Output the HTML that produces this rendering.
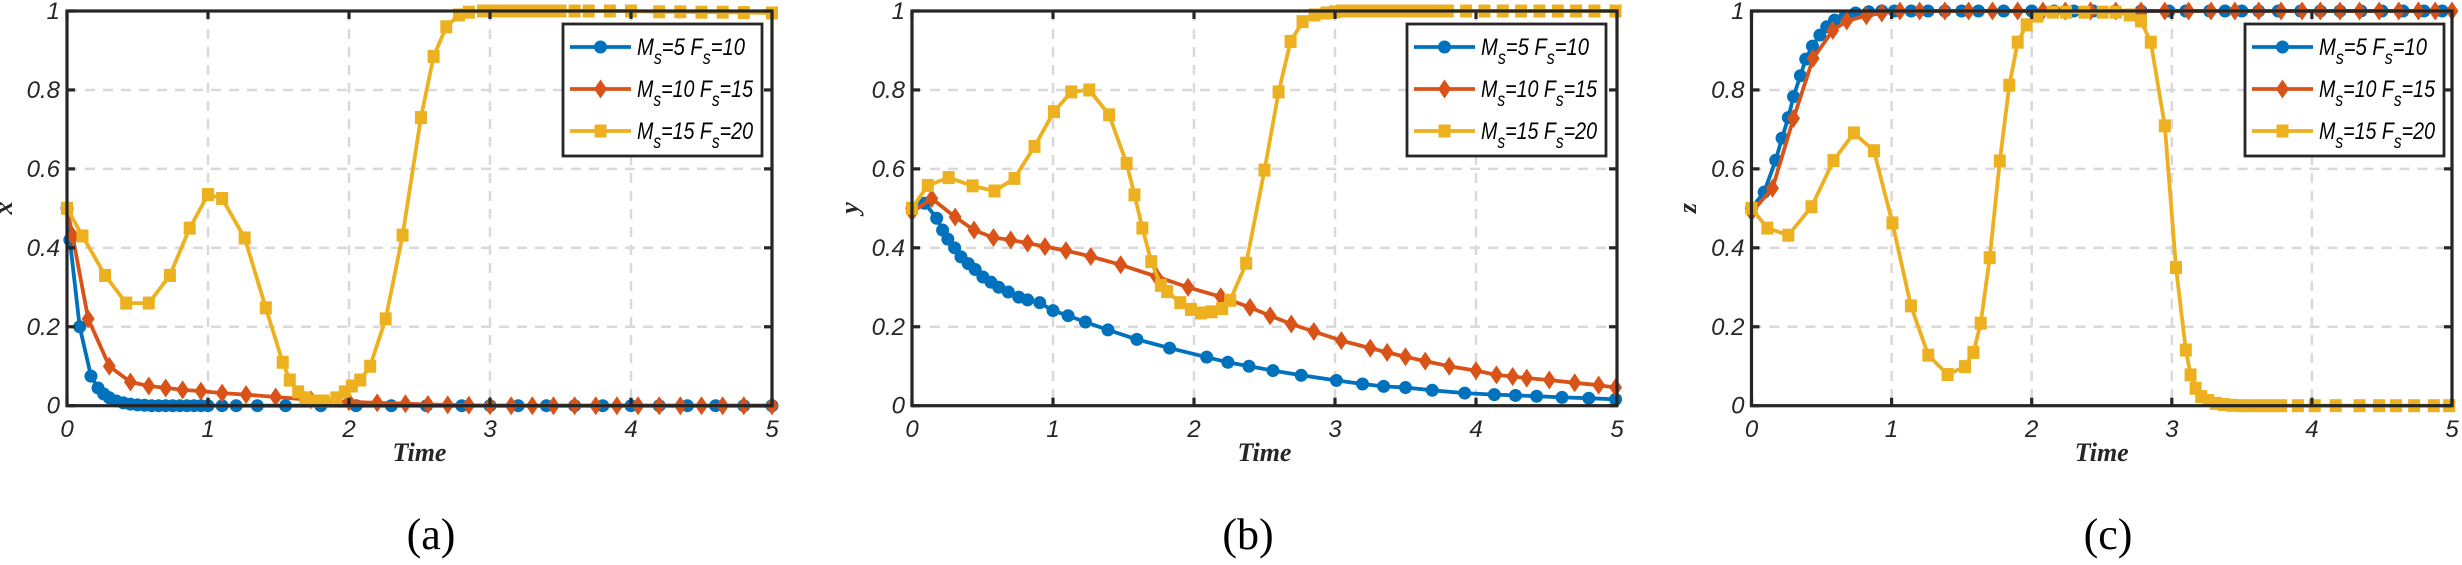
<!DOCTYPE html>
<html><head><meta charset="utf-8">
<style>
html,body{margin:0;padding:0;background:#fff;}
svg{display:block;}
</style></head>
<body>
<svg id="fig" width="2462" height="565" viewBox="0 0 2462 565" xmlns="http://www.w3.org/2000/svg"></svg>
<script>
// ---------- data (t, value) per series ----------
const tickX = [0,1,2,3,4,5];
const tickY = [0,0.2,0.4,0.6,0.8,1];
const tickYLabels = ['0','0.2','0.4','0.6','0.8','1'];
const seriesNames = ['Ms=5 Fs=10','Ms=10 Fs=15','Ms=15 Fs=20'];
const panelLabels = ['(a)','(b)','(c)'];
const yTitles = ['x','y','z'];

// panel (a) x
const aBlueT = [0,0.02,0.09,0.17,0.22,0.26,0.3,0.35,0.4,0.45,0.5,0.55,0.6,0.65,0.7,0.75,0.8,0.85,0.9,0.95,1.0,1.1,1.2,1.35,1.55,1.8,2.05,2.3,2.55,2.8,3.0,3.2,3.4,3.6,3.8,4.0,4.2,4.4,4.6,4.8,5.0];
const aBlueV = [0.5,0.42,0.2,0.075,0.045,0.03,0.02,0.012,0.007,0.004,0.002,0.001,0,0,0,0,0,0,0,0,0,0,0,0,0,0,0,0,0,0,0,0,0,0,0,0,0,0,0,0,0];
const aRedT = [0,0.04,0.15,0.3,0.45,0.58,0.7,0.82,0.95,1.1,1.27,1.48,1.73,2.0,2.2,2.4,2.56,2.7,2.85,3.0,3.15,3.3,3.45,3.6,3.75,3.9,4.05,4.2,4.35,4.5,4.65,4.8,5.0];
const aRedV = [0.5,0.43,0.22,0.1,0.06,0.05,0.045,0.04,0.037,0.032,0.028,0.022,0.015,0.01,0.007,0.005,0.003,0.002,0.001,0,0,0,0,0,0,0,0,0,0,0,0,0,0];
const aYelT = [0,0.11,0.27,0.42,0.58,0.73,0.87,1.0,1.1,1.26,1.41,1.53,1.58,1.64,1.69,1.76,1.82,1.91,1.97,2.02,2.08,2.15,2.26,2.38,2.51,2.6,2.69,2.78,2.85,2.95,3.0,3.05,3.1,3.15,3.2,3.25,3.3,3.35,3.4,3.45,3.5,3.6,3.7,3.85,4.0,4.2,4.35,4.5,4.65,4.8,5.0];
const aYelV = [0.5,0.43,0.33,0.26,0.26,0.33,0.45,0.535,0.525,0.425,0.248,0.11,0.065,0.035,0.02,0.012,0.012,0.02,0.035,0.05,0.065,0.1,0.22,0.432,0.73,0.885,0.96,0.99,0.997,1,1,1,1,1,1,1,1,1,1,1,1,1,1,1,1,0.998,0.998,0.997,0.997,0.996,0.995];

// panel (b) y
const bBlueT = [0,0.09,0.175,0.217,0.254,0.302,0.347,0.399,0.448,0.503,0.56,0.615,0.683,0.757,0.82,0.906,1.0,1.107,1.23,1.39,1.595,1.827,2.09,2.24,2.39,2.56,2.76,3.01,3.195,3.345,3.5,3.69,3.92,4.13,4.28,4.43,4.61,4.8,4.99];
const bBlueV = [0.5,0.513,0.475,0.445,0.422,0.4,0.377,0.36,0.345,0.326,0.313,0.3,0.288,0.275,0.268,0.261,0.241,0.228,0.212,0.192,0.168,0.146,0.123,0.11,0.1,0.089,0.077,0.064,0.055,0.049,0.046,0.039,0.032,0.028,0.026,0.024,0.021,0.019,0.016];
const bRedT = [0,0.14,0.306,0.44,0.578,0.7,0.82,0.943,1.092,1.268,1.48,1.734,1.958,2.19,2.397,2.54,2.69,2.85,3.045,3.25,3.37,3.5,3.64,3.81,4.0,4.145,4.26,4.36,4.52,4.7,4.87,4.99];
const bRedV = [0.49,0.525,0.478,0.445,0.426,0.42,0.412,0.403,0.393,0.378,0.357,0.327,0.3,0.276,0.249,0.228,0.207,0.188,0.165,0.146,0.135,0.124,0.113,0.1,0.089,0.078,0.074,0.07,0.065,0.058,0.052,0.046];
const bYelT = [0,0.112,0.26,0.43,0.585,0.727,0.869,1.007,1.13,1.257,1.398,1.522,1.578,1.634,1.697,1.765,1.81,1.903,1.978,2.05,2.125,2.2,2.257,2.37,2.5,2.6,2.685,2.77,2.855,2.94,3.0,3.05,3.1,3.15,3.2,3.25,3.3,3.35,3.4,3.45,3.5,3.55,3.6,3.65,3.7,3.75,3.8,3.93,4.06,4.19,4.32,4.45,4.58,4.71,4.84,4.99];
const bYelV = [0.5,0.558,0.578,0.557,0.544,0.576,0.657,0.745,0.795,0.8,0.737,0.614,0.534,0.45,0.365,0.305,0.289,0.261,0.244,0.235,0.238,0.246,0.267,0.361,0.597,0.795,0.923,0.973,0.99,0.995,0.998,1,1,1,1,1,1,1,1,1,1,1,1,1,1,1,1,1,1,1,1,1,1,1,1,1];

// panel (c) z
const cBlueT = [0,0.09,0.173,0.218,0.263,0.3,0.349,0.387,0.435,0.488,0.537,0.593,0.668,0.743,0.837,0.93,1.02,1.14,1.26,1.38,1.5,1.62,1.8,2.0,2.16,2.3,2.44,2.6,2.78,2.98,3.1,3.27,3.38,3.5,3.62,3.76,3.92,4.06,4.2,4.35,4.5,4.65,4.8,4.93];
const cBlueV = [0.5,0.541,0.622,0.678,0.73,0.783,0.836,0.878,0.911,0.939,0.96,0.977,0.987,0.995,0.998,1,1,1,1,1,1,1,1,1,1,1,1,1,1,1,1,1,1,1,1,1,1,1,1,1,1,1,1,1];
const cRedT = [0,0.15,0.3,0.44,0.58,0.68,0.82,0.93,1.06,1.2,1.38,1.55,1.72,1.9,2.08,2.24,2.42,2.6,2.78,2.95,3.12,3.28,3.45,3.62,3.78,3.93,4.06,4.2,4.34,4.48,4.62,4.76,4.88,5.0];
const cRedV = [0.49,0.551,0.728,0.88,0.951,0.975,0.988,0.995,1,1,1,1,1,1,1,1,1,1,1,1,1,1,1,1,1,1,1,1,1,1,1,1,1,1];
const cYelT = [0,0.113,0.263,0.428,0.585,0.731,0.874,1.006,1.138,1.262,1.4,1.524,1.584,1.636,1.7,1.772,1.84,1.9,1.964,2.04,2.15,2.245,2.376,2.507,2.6,2.7,2.78,2.85,2.95,3.03,3.1,3.134,3.17,3.21,3.26,3.315,3.37,3.43,3.5,3.57,3.64,3.71,3.78,3.9,4.02,4.17,4.34,4.48,4.6,4.73,4.87,4.98];
const cYelV = [0.5,0.45,0.432,0.504,0.621,0.691,0.646,0.463,0.253,0.128,0.079,0.099,0.135,0.209,0.375,0.62,0.812,0.921,0.965,0.987,0.997,0.997,0.997,0.997,0.997,0.99,0.975,0.921,0.709,0.35,0.141,0.078,0.044,0.023,0.013,0.006,0.003,0.001,0,0,0,0,0,0,0,0,0,0,0,0,0,0];

const panels = [
  {left:67, right:772, series:[[aBlueT,aBlueV],[aRedT,aRedV],[aYelT,aYelV]], legendX:563, yTitleX:12, labelX:431},
  {left:912, right:1617, series:[[bBlueT,bBlueV],[bRedT,bRedV],[bYelT,bYelV]], legendX:1407, yTitleX:858, labelX:1248},
  {left:1751.5, right:2452, series:[[cBlueT,cBlueV],[cRedT,cRedV],[cYelT,cYelV]], legendX:2245, yTitleX:1696, labelX:2108}
];
const TOP = 11, BOTTOM = 405.7;
const colors = ['#0072BD','#D95319','#EDB120'];
const markers = ['circle','diamond','square'];
const NS = 'http://www.w3.org/2000/svg';
const svg = document.getElementById('fig');

function mk(tag, attrs, parent){
  const e = document.createElementNS(NS, tag);
  for (const k in attrs) e.setAttribute(k, attrs[k]);
  (parent||svg).appendChild(e);
  return e;
}
function marker(kind, x, y, color, parent){
  let e;
  if (kind==='circle') e = mk('circle',{cx:x,cy:y,r:6.5,fill:color},parent);
  else if (kind==='diamond') e = mk('polygon',{points:`${x},${y-9.5} ${x+6.5},${y} ${x},${y+9.5} ${x-6.5},${y}`,fill:color},parent);
  else e = mk('rect',{x:x-6,y:y-6.5,width:12,height:13,fill:color},parent);
  return e;
}
const tickFont = '"Liberation Sans Narrow","Liberation Sans",sans-serif';

panels.forEach((p, pi) => {
  const g = mk('g',{});
  
  
  const sx = t => p.left + (t/5)*(p.right-p.left);
  const sy = v => BOTTOM - v*(BOTTOM-TOP);

  tickX.slice(1,5).forEach(t => {
    const l = mk('line',{x1:sx(t),x2:sx(t),y1:TOP,y2:BOTTOM,stroke:'#d9d9d9','stroke-width':2.5,'stroke-dasharray':'10,8'},g);
    
    
  });
  tickY.slice(1,5).forEach(v => {
    const l = mk('line',{x1:p.left,x2:p.right,y1:sy(v),y2:sy(v),stroke:'#d9d9d9','stroke-width':2.5,'stroke-dasharray':'10,8'},g);
    
    
  });

  p.series.forEach((s, si) => {
    const sg = mk('g',{},g);
    
    
    const pts = s[0].map((t,i) => sx(t).toFixed(1)+','+sy(s[1][i]).toFixed(1)).join(' ');
    const line = mk('polyline',{points:pts,fill:'none',stroke:colors[si],'stroke-width':3.8,'stroke-linejoin':'round'},sg);
    
    
    s[0].forEach((t,i) => {
      const m = marker(markers[si], sx(t), sy(s[1][i]), colors[si], sg);
      
      
    });
  });

  const box = mk('rect',{x:p.left,y:TOP,width:p.right-p.left,height:BOTTOM-TOP,fill:'none',stroke:'#262626','stroke-width':3.2},g);
  
  

  tickX.forEach(t => {
    mk('line',{x1:sx(t),x2:sx(t),y1:BOTTOM,y2:BOTTOM-8,stroke:'#262626','stroke-width':3.2},g);
    mk('line',{x1:sx(t),x2:sx(t),y1:TOP,y2:TOP+8,stroke:'#262626','stroke-width':3.2},g);
    const tx = mk('text',{x:sx(t),y:437,'text-anchor':'middle','font-family':tickFont,'font-style':'italic','font-size':24,fill:'#262626'},g);
    tx.textContent = String(t);
    
    
  });
  tickY.forEach((v,i) => {
    mk('line',{x1:p.left,x2:p.left+8,y1:sy(v),y2:sy(v),stroke:'#262626','stroke-width':3.2},g);
    mk('line',{x1:p.right,x2:p.right-8,y1:sy(v),y2:sy(v),stroke:'#262626','stroke-width':3.2},g);
    const tx = mk('text',{x:p.left-7,y:sy(v)+8,'text-anchor':'end','font-family':tickFont,'font-style':'italic','font-size':24,fill:'#262626'},g);
    tx.textContent = tickYLabels[i];
    
    
  });

  const xt = mk('text',{x:(p.left+p.right)/2,y:461,'text-anchor':'middle','font-family':'"Liberation Serif",serif','font-style':'italic','font-weight':'bold','font-size':26,fill:'#262626'},g);
  xt.textContent = 'Time';
  
  
  const yt = mk('text',{x:p.yTitleX,y:208,'text-anchor':'middle','font-family':'"Liberation Serif",serif','font-style':'italic','font-weight':'bold','font-size':26,fill:'#262626',transform:`rotate(-90 ${p.yTitleX} 208)`},g);
  yt.textContent = yTitles[pi];
  
  

  const lg = mk('g',{},g);
  
  
  mk('rect',{x:p.legendX,y:24,width:199,height:132,fill:'#fff',stroke:'#262626','stroke-width':2.8},lg);
  [47,89,131].forEach((ly, si) => {
    const e = mk('g',{},lg);
    
    
    mk('line',{x1:p.legendX+7,x2:p.legendX+68,y1:ly,y2:ly,stroke:colors[si],'stroke-width':3.8},e);
    marker(markers[si], p.legendX+37.5, ly, colors[si], e);
    const parts = [['5','10'],['10','15'],['15','20']][si];
    const tx = mk('text',{x:p.legendX+74,y:ly+8,'font-family':tickFont,'font-style':'italic','font-size':24,fill:'#000',textLength:si===0?108:116,lengthAdjust:'spacingAndGlyphs'},e);
    tx.setAttribute('xml:space','preserve');
    tx.innerHTML = `M<tspan dy="9" font-size="19">s</tspan><tspan dy="-9">=${parts[0]} F</tspan><tspan dy="9" font-size="19">s</tspan><tspan dy="-9">=${parts[1]}</tspan>`;
  });

  const pl = mk('text',{x:p.labelX,y:549,'text-anchor':'middle','font-family':'"Liberation Serif",serif','font-size':44,fill:'#000'},g);
  pl.textContent = panelLabels[pi];
  
  
});
</script>
</body></html>
